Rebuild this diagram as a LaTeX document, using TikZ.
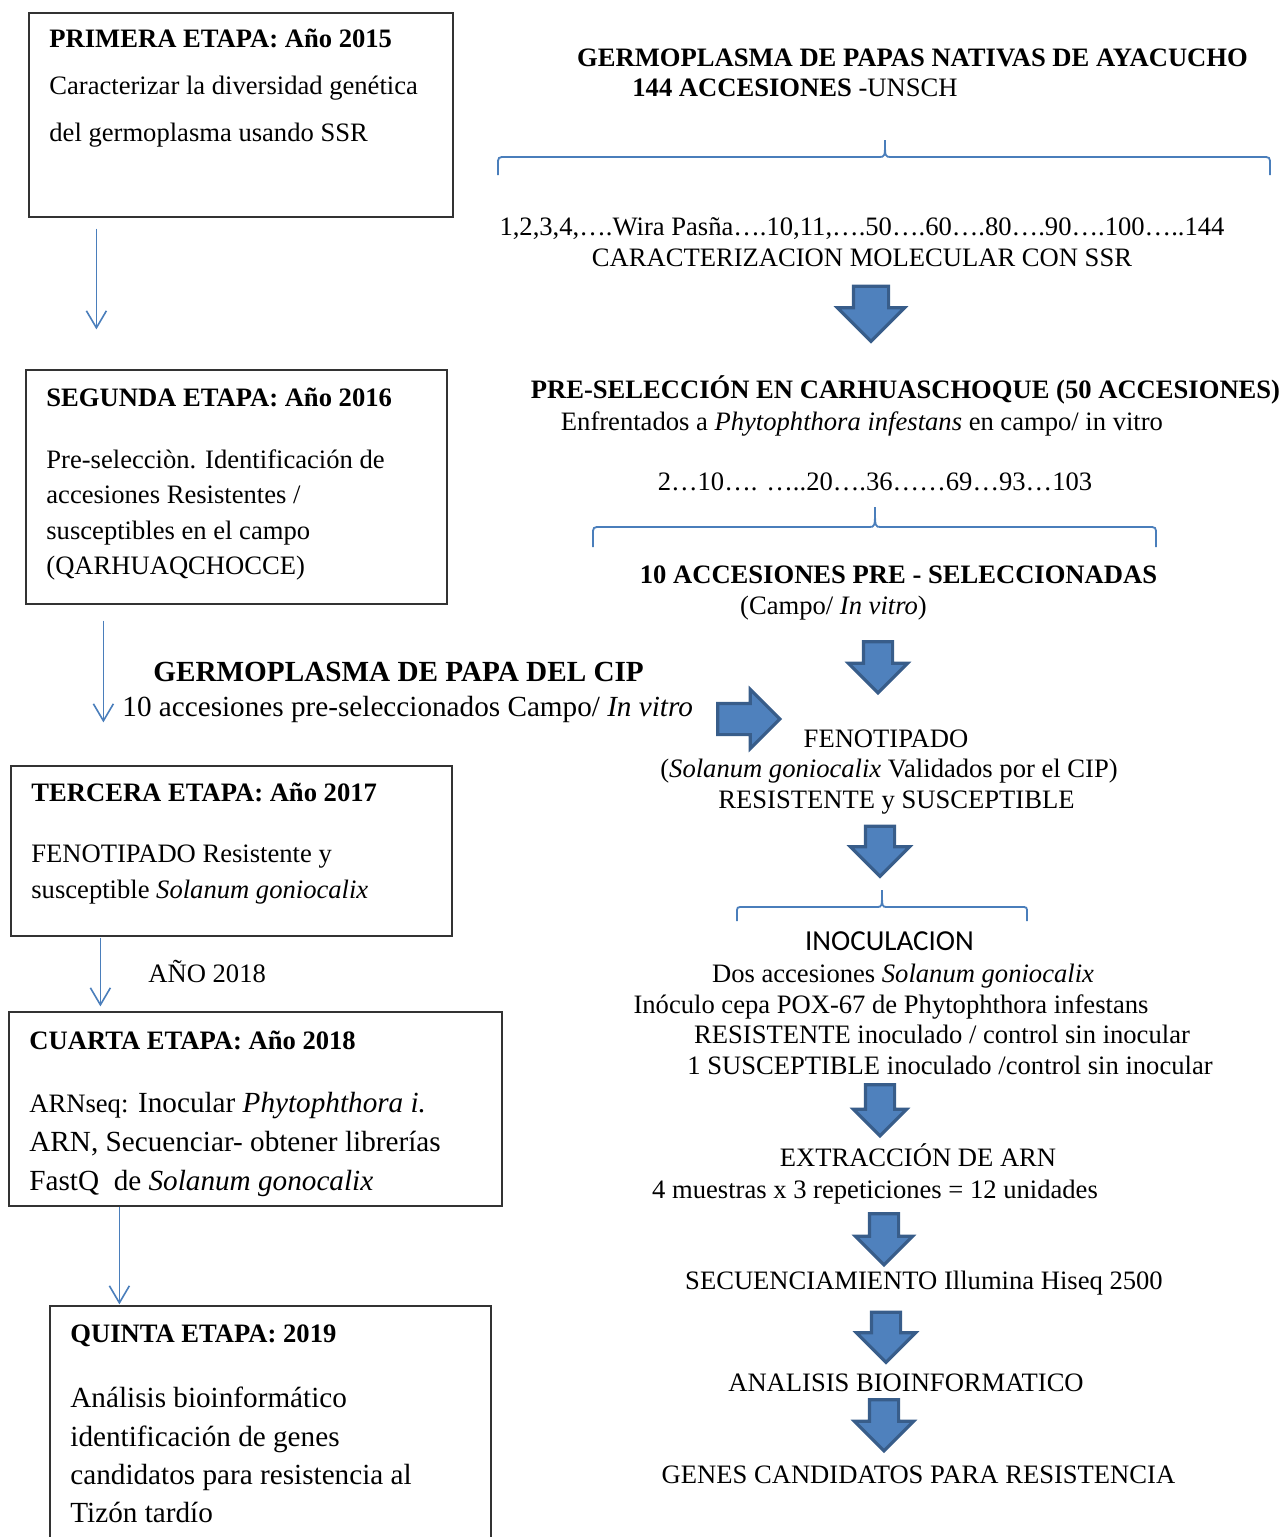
\documentclass[tikz,border=0pt]{standalone}
\usepackage{fontspec}
\setmainfont{Liberation Serif}
\newfontfamily\calfont{Carlito}
\usetikzlibrary{arrows.meta}
\usetikzlibrary{calc,shapes.arrows}

\definecolor{lineblue}{HTML}{4A7EBB}
\definecolor{fillblue}{HTML}{4F81BD}
\definecolor{edgeblue}{HTML}{385D8A}

\tikzset{
  stage/.style={draw=black!80, line width=0.6pt, inner sep=0pt},
  txt/.style={inner sep=0pt, anchor=base, font=\fontsize{13.3}{16}\selectfont},
  bold/.style={txt, font=\fontsize{13.3}{16}\selectfont\bfseries},
  big/.style={txt, font=\fontsize{14.6}{17}\selectfont},
  lt/.style={txt, anchor=base west},
  lbold/.style={bold, anchor=base west},
  lbig/.style={big, anchor=base west},
  flow/.style={draw=lineblue, line width=0.8pt, -{Straight Barb[length=8.5pt,width=10pt]}},
  bracket/.style={draw=lineblue, line width=0.9pt},
  fat/.style={single arrow, draw=edgeblue, fill=fillblue, line width=1.6pt,
    inner xsep=0pt, inner ysep=6.5pt, single arrow head extend=7.5pt, single arrow tip angle=90},
  fatdown/.style={fat, rotate=-90},
}

\begin{document}
\begin{tikzpicture}[x=0.5pt, y=-0.5pt, >=Stealth]
\useasboundingbox (0,0) rectangle (1285,1537);

    % etapas
    \node[stage, minimum width=212pt, minimum height=102pt] (box1) at (241,115) {};
    \node[stage, minimum width=210.5pt, minimum height=117pt] (box2) at (236.5,487) {};
    \node[stage, minimum width=220.5pt, minimum height=85pt] (box3) at (231.5,851) {};
    \node[stage, minimum width=246.5pt, minimum height=97pt] (box4) at (255.5,1109) {};
    \node[stage, minimum width=220.5pt, minimum height=127pt] (box5) at (270.5,1433) {};

    \node[lbold] (h1) at (49,47) {PRIMERA ETAPA: Año 2015};
    \node[lt] (t1a) at (49,94) {Caracterizar la diversidad genética};
    \node[lt] (t1b) at (49,141) {del germoplasma usando SSR};

    \node[lbold] (h2) at (46,406) {SEGUNDA ETAPA: Año 2016};
    \node[lt] (t2a) at (46,468) {Pre-selecciòn. Identificación de};
    \node[lt] (t2b) at (46,503) {accesiones Resistentes /};
    \node[lt] (t2c) at (46,539) {susceptibles en el campo};
    \node[lt] (t2d) at (46,574) {(QARHUAQCHOCCE)};

    \node[lbold] (h3) at (31,801) {TERCERA ETAPA: Año 2017};
    \node[lt] (t3a) at (31,862) {FENOTIPADO Resistente y};
    \node[lt] (t3b) at (31,898) {susceptible \textit{Solanum goniocalix}};

    \node[lbold] (h4) at (29,1049) {CUARTA ETAPA: Año 2018};
    \node[lbig] (t4a) at (29,1112) {{\fontsize{13.3}{16}\selectfont ARNseq:} Inocular \textit{Phytophthora i.}};
    \node[lbig] (t4b) at (29,1151) {ARN, Secuenciar- obtener librerías};
    \node[lbig] (t4c) at (29,1190) {FastQ\ \ de \textit{Solanum gonocalix}};

    \node[lbold] (h5) at (70,1342) {QUINTA ETAPA: 2019};
    \node[lbig] (t5a) at (70,1407) {Análisis bioinformático};
    \node[lbig] (t5b) at (70,1446) {identificación de genes};
    \node[lbig] (t5c) at (70,1484) {candidatos para resistencia al};
    \node[lbig] (t5d) at (70,1522) {Tizón tardío};

    \draw[flow] ($(box1.south west)+(68,11)$) -- ($(box2.north west)+(71,-40)$);
    \draw[flow] ($(box2.south west)+(78,16)$) -- ($(box3.north west)+(93,-43)$);
    \draw[flow] ($(box3.south west)+(90,1)$) -- ($(box4.north west)+(92,-5)$);
    \draw[flow] ($(box4.south west)+(111,0)$) -- ($(box5.north west)+(70,-1)$);
    \node[lt] (y18) at (148,982) {AÑO 2018};

    % germoplasma CIP
    \node[lbig, font=\fontsize{14.6}{17}\selectfont\bfseries] (cip) at (153,681) {GERMOPLASMA DE PAPA DEL CIP};
    \node[lbig] (cipa) at (122,716) {10 accesiones pre-seleccionados Campo/ \textit{In vitro}};

    % columna derecha
    \node[bold] (g1) at (912.5,66) {GERMOPLASMA DE PAPAS NATIVAS DE AYACUCHO};
    \node[lt] (g2) at (632,96) {\textbf{144 ACCESIONES} -UNSCH};
    \draw[bracket] (498,175) -- (498,165) .. controls (498,157) .. (506,157) -- (879,157)
      .. controls (885,157) .. (885,140) .. controls (885,157) .. (891,157) -- (1262,157)
      .. controls (1270,157) .. (1270,165) -- (1270,175);
    \node[txt] (n1) at (862,235) {1,2,3,4,….Wira Pasña….10,11,….50….60….80….90….100…..144};
    \node[txt] (n2) at (862,266) {CARACTERIZACION MOLECULAR CON SSR};
    \node[fatdown, minimum height=27.5pt, inner ysep=8pt, single arrow head extend=8pt] (ar1) at (871,305) {};

    \node[bold] (p1) at (905.5,398) {PRE-SELECCIÓN EN CARHUASCHOQUE (50 ACCESIONES)};
    \node[txt] (p2) at (862,430) {Enfrentados a \textit{Phytophthora infestans} en campo/ in vitro};
    \node[txt] (p3) at (875,490) {2…10…. …..20….36……69…93…103};
    \draw[bracket] (593,547) -- (593,535) .. controls (593,527) .. (601,527) -- (869,527)
      .. controls (875,527) .. (875,507) .. controls (875,527) .. (881,527) -- (1148,527)
      .. controls (1156,527) .. (1156,535) -- (1156,547);
    \node[bold] (p4) at (898.5,583) {10 ACCESIONES PRE - SELECCIONADAS};
    \node[txt] (p5) at (833.5,614) {(Campo/ \textit{In vitro})};
    \node[fatdown, minimum height=25.5pt] (ar2) at (878,660) {};
    \node[fat, minimum height=31pt, inner ysep=7pt, single arrow head extend=7pt] (ar3) at (741,719) {};

    \node[txt] (f1) at (886,747) {FENOTIPADO};
    \node[txt] (f2) at (889,777) {(\textit{Solanum goniocalix} Validados por el CIP)};
    \node[txt] (f3) at (896.5,808) {RESISTENTE y SUSCEPTIBLE};
    \node[fatdown, minimum height=25pt] (ar4) at (880,844) {};

    \draw[bracket] (737,921) -- (737,913) .. controls (737,907) .. (743,907) -- (877,907)
      .. controls (882,907) .. (882,890) .. controls (882,907) .. (887,907) -- (1021,907)
      .. controls (1027,907) .. (1027,913) -- (1027,921);
    \node[txt, font=\calfont\fontsize{14.5}{17}\selectfont] (i1) at (889.5,950) {INOCULACION};
    \node[txt] (i2) at (903,982) {Dos accesiones \textit{Solanum goniocalix}};
    \node[txt] (i3) at (891,1013) {Inóculo cepa POX-67 de Phytophthora infestans};
    \node[txt] (i4) at (942,1043) {RESISTENTE inoculado / control sin inocular};
    \node[txt] (i5) at (950,1074) {1 SUSCEPTIBLE inoculado /control sin inocular};
    \node[fatdown, minimum height=25.5pt, single arrow head extend=6pt] (ar5) at (880,1103) {};

    \node[txt] (e1) at (918,1166) {EXTRACCIÓN DE ARN};
    \node[txt] (e2) at (875,1198) {4 muestras x 3 repeticiones = 12 unidades};
    \node[fatdown, minimum height=25.5pt, single arrow head extend=7pt] (ar6) at (884,1232) {};

    \node[txt] (s1) at (924,1289) {SECUENCIAMIENTO Illumina Hiseq 2500};
    \node[fatdown, minimum height=25pt] (ar7) at (886,1330) {};

    \node[txt] (s2) at (906,1391) {ANALISIS BIOINFORMATICO};
    \node[fatdown, minimum height=25.5pt] (ar8) at (884,1418) {};

    \node[txt] (s3) at (918.5,1483) {GENES CANDIDATOS PARA RESISTENCIA};

\end{tikzpicture}
\end{document}
